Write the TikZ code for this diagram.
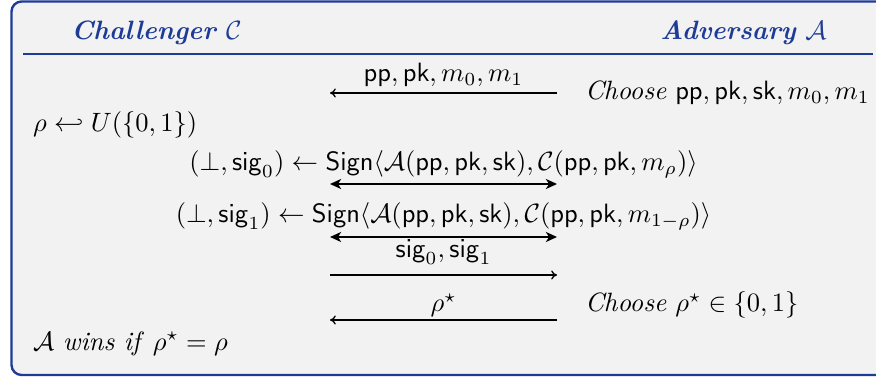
\documentclass[tikz,border=0pt]{standalone}
\usepackage{amsmath,amssymb}
\usetikzlibrary{arrows.meta}
\definecolor{frameblue}{RGB}{30,60,150}
\definecolor{framebg}{RGB}{242,242,242}
\newcommand{\pp}{\mathsf{pp}}
\newcommand{\pk}{\mathsf{pk}}
\newcommand{\sk}{\mathsf{sk}}
\newcommand{\sig}{\mathsf{sig}}
\newcommand{\Sgn}{\mathsf{Sign}}
\begin{document}
\begin{tikzpicture}[x=0.3774pt,y=-0.3774pt,
  txt/.style={inner sep=0pt,outer sep=0pt},
  title/.style={txt,anchor=base,text=frameblue},
  frame/.style={draw=frameblue,line width=0.9pt,fill=framebg,rounded corners=3.8pt},
  thinarr/.style={line width=0.5pt,-{To[length=2.2pt,width=3.4pt]}},
  thickarr/.style={line width=0.8pt,{Stealth[length=4.2pt,width=3.8pt,inset=1.2pt]}-{Stealth[length=4.2pt,width=3.8pt,inset=1.2pt]}}]
\useasboundingbox (0,0) rectangle (876,378);
\draw[frame] (11.5,1.5) rectangle (905,375);
\draw[frameblue,line width=0.75pt] (23,54) -- (873,54);
% titles
\node[title] (tc) at (156.5,40) {\textbf{\textit{Challenger}} $\mathcal{C}$};
\node[title] (ta) at (743.5,40) {\textbf{\textit{Adversary}} $\mathcal{A}$};
% message 1
\coordinate (a1l) at (330,93);
\coordinate (a1r) at (557,93);
\node[txt,anchor=base] (l1) at (443.5,82) {$\pp, \pk, m_0, m_1$};
\draw[thinarr] (a1r) -- (a1l);
\node[txt,anchor=base west] (ch1) at (585,100) {\textit{Choose} $\pp, \pk, \sk, m_0, m_1$};
% sample rho
\node[txt,anchor=base west] (rho) at (33,132) {$\rho \hookleftarrow U(\{0,1\})$};
% sign 0
\node[txt,anchor=base] (s0) at (443.5,171) {$(\perp, \sig_0) \leftarrow \Sgn\langle \mathcal{A}(\pp, \pk, \sk), \mathcal{C}(\pp, \pk, m_\rho)\rangle$};
\coordinate (a2l) at (330,184);
\coordinate (a2r) at (557,184);
\draw[thickarr] (a2l) -- (a2r);
% sign 1
\node[txt,anchor=base] (s1) at (443.5,223) {$(\perp, \sig_1) \leftarrow \Sgn\langle \mathcal{A}(\pp, \pk, \sk), \mathcal{C}(\pp, \pk, m_{1-\rho})\rangle$};
\coordinate (a3l) at (330,237);
\coordinate (a3r) at (557,237);
\draw[thickarr] (a3l) -- (a3r);
% sigs to adversary
\node[txt,anchor=base] (l4) at (443.5,258) {$\sig_0, \sig_1$};
\coordinate (a4l) at (330,275);
\coordinate (a4r) at (557,275);
\draw[thinarr] (a4l) -- (a4r);
% guess
\node[txt,anchor=base] (l5) at (443.5,312) {$\rho^\star$};
\coordinate (a5l) at (330,320);
\coordinate (a5r) at (557,320);
\draw[thinarr] (a5r) -- (a5l);
\node[txt,anchor=base west] (ch2) at (585,312) {\textit{Choose} $\rho^\star \in \{0,1\}$};
% win
\node[txt,anchor=base west] (win) at (33,350) {$\mathcal{A}$ \textit{wins if} $\rho^\star = \rho$};
\end{tikzpicture}
\end{document}
